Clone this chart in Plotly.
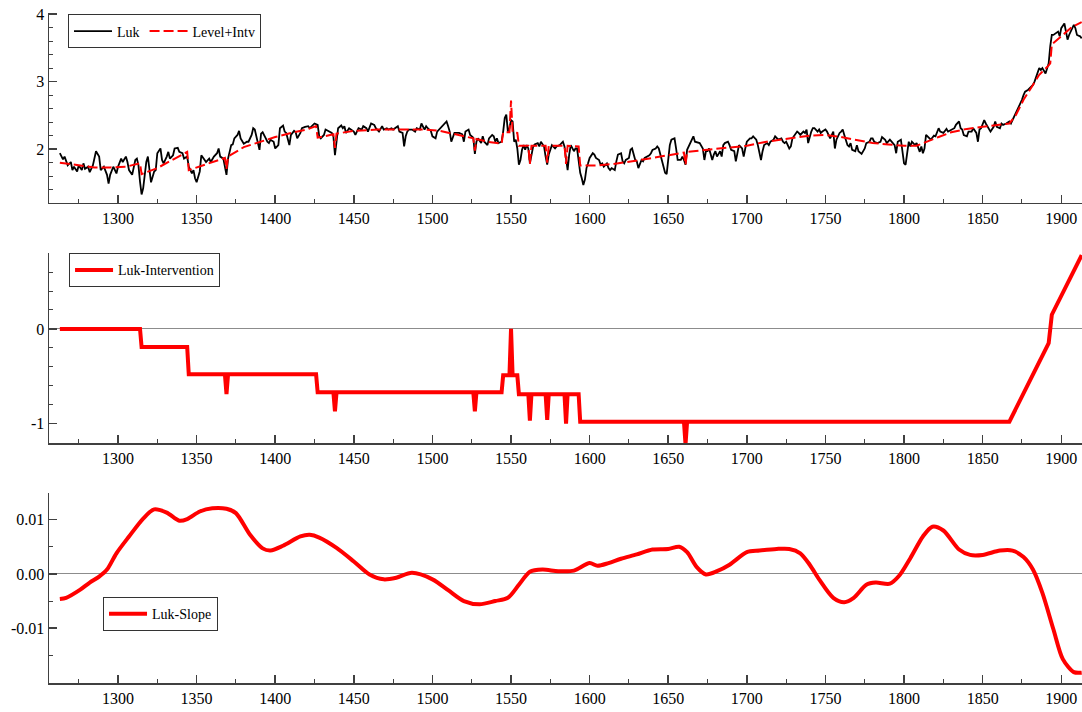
import plotly.graph_objects as go
from plotly.subplots import make_subplots

# ---------------- data ----------------
luk_years = [
 1263,1265,1266,1268,1270,1271,1272,1274,1275,1277,1278,1279,1281,1282,1284,1286,1288,1289,1291,1293,
 1294,1295,1297,1299,1300,1302,1303,1305,1306,1307,1309,1311,1312,1313,1314,1315,1316,1318,1319,1320,
 1321,1323,1324,1325,1327,1328,1329,1331,1332,1333,1335,1336,1338,1339,1341,1342,1344,1345,1347,1348,
 1349,1350,1352,1353,1355,1356,1358,1359,1361,1363,1364,1365,1367,1368,1369,1370,1372,1373,1374,1376,
 1377,1378,1380,1382,1383,1385,1386,1387,1389,1390,1391,1392,1394,1395,1396,1397,1399,1400,1402,1403,
 1405,1406,1407,1409,1410,1412,1413,1414,1416,1417,1419,1421,1422,1424,1425,1427,1428,1429,1431,1432,
 1434,1436,1437,1438,1439,1440,1442,1443,1444,1445,1447,1448,1450,1451,1453,1455,1456,1458,1459,1461,
 1463,1464,1466,1468,1469,1471,1472,1474,1475,1478,1479,1481,1482,1483,1484,1485,1487,1489,1490,1492,
 1493,1495,1496,1497,1499,1500,1502,1503,1505,1506,1508,1509,1510,1511,1512,1514,1515,1517,1519,1520,
 1521,1523,1524,1526,1527,1528,1529,1531,1532,1533,1535,1536,1538,1539,1540,1541,1542,1544,1545,1546,
 1547,1548,1549,1550,1551,1552,1553,1554,1555,1556,1557,1558,1559,1560,1561,1562,1564,1565,1567,1568,
 1569,1571,1572,1573,1574,1575,1576,1578,1579,1581,1583,1584,1585,1586,1587,1588,1590,1591,1592,1593,
 1594,1595,1596,1597,1598,1599,1600,1602,1603,1604,1606,1607,1608,1609,1611,1612,1613,1614,1616,1617,
 1618,1620,1621,1622,1623,1625,1626,1627,1628,1629,1630,1631,1633,1634,1635,1637,1638,1639,1640,1642,
 1643,1644,1645,1647,1648,1649,1650,1651,1652,1654,1655,1656,1658,1659,1660,1661,1662,1663,1664,1666,
 1667,1669,1670,1672,1673,1674,1675,1676,1678,1679,1680,1681,1683,1684,1685,1686,1688,1689,1690,1692,
 1693,1694,1695,1697,1698,1699,1700,1702,1703,1704,1706,1707,1708,1709,1710,1711,1713,1714,1715,1717,
 1718,1719,1720,1722,1723,1724,1725,1727,1728,1729,1731,1732,1733,1734,1736,1737,1738,1739,1741,1742,
 1743,1745,1746,1747,1748,1750,1751,1752,1753,1755,1756,1757,1759,1760,1761,1762,1764,1765,1766,1767,
 1769,1770,1771,1773,1774,1775,1776,1778,1779,1780,1781,1783,1785,1786,1788,1789,1791,1792,1794,1795,
 1796,1798,1799,1800,1801,1802,1803,1804,1805,1807,1808,1810,1811,1812,1813,1814,1816,1817,1819,1820,
 1822,1823,1825,1827,1828,1830,1832,1833,1835,1836,1837,1838,1840,1841,1843,1844,1846,1847,1848,1849,
 1851,1852,1854,1855,1857,1858,1859,1861,1862,1863,1865,1867,1868,1870,1872,1873,1875,1876,1877,1879,
 1880,1882,1883,1885,1886,1887,1888,1890,1891,1892,1893,1894,1895,1896,1898,1899,1900,1902,1903,1904,
 1905,1907,1908,1909,1910,1912,1913]
luk_values = [
 1.94,1.85,1.89,1.76,1.81,1.69,1.74,1.67,1.76,1.69,1.79,1.71,1.74,1.66,1.76,1.97,1.89,1.69,1.74,1.62,
 1.49,1.62,1.74,1.64,1.74,1.86,1.81,1.89,1.81,1.69,1.62,1.84,1.86,1.76,1.52,1.33,1.42,1.81,1.89,1.67,
 1.51,1.67,1.69,1.94,2.01,1.84,1.79,1.89,1.96,1.86,1.91,2.01,2.02,1.96,1.94,1.86,1.89,1.74,1.64,1.69,
 1.57,1.51,1.67,1.91,1.84,1.81,1.86,1.81,1.89,1.94,2.01,1.89,1.86,1.74,1.62,1.86,2.06,2.07,2.16,2.21,
 2.27,2.16,2.08,2.11,2.11,2.21,2.31,2.29,2.11,1.99,2.23,2.25,2.16,2.11,2.09,2.14,2.11,2.01,2.06,2.31,
 2.35,2.26,2.24,2.06,2.21,2.27,2.25,2.16,2.24,2.31,2.33,2.34,2.31,2.36,2.38,2.36,2.19,2.16,2.21,2.29,
 2.26,2.24,2.19,1.91,2.11,2.31,2.35,2.31,2.34,2.24,2.31,2.29,2.26,2.21,2.31,2.29,2.34,2.31,2.26,2.38,
 2.36,2.31,2.26,2.34,2.29,2.31,2.29,2.31,2.29,2.34,2.26,2.24,2.04,2.19,2.26,2.29,2.29,2.26,2.31,2.29,
 2.38,2.29,2.34,2.31,2.27,2.19,2.16,2.26,2.31,2.34,2.38,2.41,2.34,2.26,2.11,2.24,2.24,2.24,2.22,2.11,
 2.26,2.29,2.21,2.17,1.93,2.11,2.16,2.09,2.19,2.11,2.06,2.16,2.21,2.19,2.11,2.16,2.09,2.11,2.26,2.46,
 2.51,2.26,2.31,2.43,2.41,2.11,2.14,2.01,1.77,1.84,1.99,2.06,1.99,2.06,2.01,1.79,2.03,2.07,2.09,2.04,
 2.11,2.04,1.89,1.77,1.92,2.01,2.06,2.01,2.04,2.06,2.11,2.04,1.84,1.69,1.92,2.06,1.97,2.01,2.01,1.82,
 1.65,1.57,1.47,1.55,1.72,1.79,1.87,1.94,1.92,1.87,1.84,1.77,1.79,1.74,1.79,1.72,1.69,1.72,1.69,1.82,
 1.92,1.94,1.82,1.79,1.84,1.87,1.99,2.01,1.92,1.84,1.82,1.72,1.84,1.82,1.87,1.89,1.91,1.94,1.99,2.01,
 2.04,2.01,1.92,1.74,1.65,1.63,1.82,2.06,2.14,2.16,2.01,1.84,1.84,1.89,1.84,1.77,1.99,2.04,2.11,2.19,
 2.11,2.09,2.09,2.01,1.84,1.97,1.97,2.01,1.84,1.92,1.97,1.89,1.97,1.89,2.06,2.09,2.11,2.06,1.99,1.97,
 1.82,1.94,2.06,2.01,1.89,2.01,2.11,2.16,2.16,2.19,2.14,2.06,1.94,1.84,1.97,2.06,2.09,2.06,2.11,2.14,
 2.19,2.16,2.14,2.16,2.11,2.09,2.11,2.01,2.04,2.16,2.24,2.26,2.24,2.21,2.26,2.24,2.29,2.09,2.26,2.31,
 2.31,2.26,2.29,2.24,2.26,2.29,2.26,2.21,2.16,2.26,2.01,2.14,2.24,2.26,2.29,2.21,2.06,2.04,2.09,1.99,
 1.97,2.06,1.97,1.93,1.97,2.01,2.09,2.11,2.16,2.16,2.11,2.09,2.11,2.18,2.14,2.09,2.14,2.11,2.06,1.94,
 2.11,2.14,1.99,1.79,1.77,1.99,2.11,2.04,2.11,2.06,2.09,1.96,2.04,1.94,2.01,2.21,2.16,2.14,2.20,2.19,
 2.31,2.26,2.24,2.30,2.26,2.29,2.31,2.36,2.41,2.31,2.29,2.21,2.19,2.26,2.26,2.31,2.24,2.11,2.29,2.31,
 2.43,2.38,2.29,2.26,2.33,2.41,2.33,2.31,2.38,2.36,2.38,2.41,2.38,2.48,2.56,2.61,2.73,2.80,2.85,2.88,
 2.90,2.95,3.00,3.15,3.20,3.17,3.20,3.12,3.20,3.27,3.52,3.69,3.69,3.71,3.74,3.67,3.79,3.86,3.76,3.62,
 3.69,3.79,3.84,3.79,3.69,3.67,3.64]

level_years = [
 1263,1275,1285,1295,1305,1314,1315,1325,1335,1344,1345,1355,1368,1369,1370,1380,1390,1400,1410,1420,
 1426,1427,1437,1438,1439,1450,1465,1480,1495,1505,1515,1526,1527,1528,1535,1544,1545,1549,1550,1551,
 1554,1555,1561,1562,1563,1572,1573,1574,1584,1585,1586,1593,1594,1605,1615,1625,1635,1645,1655,1660,
 1661,1662,1670,1680,1690,1700,1710,1720,1730,1740,1750,1760,1770,1780,1790,1800,1808,1815,1822,1830,
 1840,1850,1860,1867,1871,1876,1882,1886,1892,1893,1894,1901,1907,1913]
level_values = [
 1.80,1.76,1.73,1.73,1.74,1.79,1.63,1.72,1.84,1.96,1.69,1.77,1.87,1.71,1.89,2.03,2.11,2.18,2.24,2.29,
 2.34,2.17,2.22,2.02,2.23,2.27,2.29,2.29,2.29,2.27,2.22,2.16,1.98,2.15,2.11,2.08,2.25,2.25,2.72,2.25,
 2.24,2.05,2.05,1.78,2.05,2.05,1.80,2.05,2.05,1.78,2.05,2.04,1.76,1.76,1.78,1.81,1.85,1.89,1.93,1.95,
 1.77,1.96,1.98,2.00,2.02,2.05,2.10,2.14,2.17,2.20,2.21,2.18,2.13,2.09,2.07,2.05,2.05,2.12,2.18,2.25,
 2.30,2.33,2.36,2.38,2.50,2.73,2.95,3.10,3.24,3.27,3.55,3.69,3.81,3.88]

intv_years = [
 1263,1314,1315,1344,1345,1368,1369,1370,1426,1427,1437,1438,1439,1526,1527,1528,1544,1545,1549,1550,
 1551,1554,1555,1561,1562,1563,1572,1573,1574,1584,1585,1586,1593,1594,1660,1661,1662,1867,1892,1894,
 1913]
intv_values = [
 0.0,0.0,-0.19,-0.19,-0.48,-0.48,-0.69,-0.48,-0.48,-0.67,-0.67,-0.87,-0.67,-0.67,-0.87,-0.67,-0.67,-0.49,-0.49,0.0,
 -0.49,-0.49,-0.69,-0.69,-0.97,-0.69,-0.69,-0.96,-0.69,-0.69,-1.00,-0.69,-0.69,-0.98,-0.98,-1.22,-0.98,-0.98,-0.15,0.15,
 0.78]

slope_years = [
 1263,1267,1276,1282,1288,1293,1299,1307,1316,1323,1331,1339,1344,1352,1360,1369,1375,1384,1392,1397,
 1405,1416,1422,1428,1439,1450,1460,1469,1477,1487,1500,1510,1520,1530,1540,1548,1555,1562,1570,1580,
 1590,1600,1605,1612,1620,1630,1640,1650,1657,1662,1668,1674,1681,1689,1700,1708,1719,1727,1734,1740,
 1746,1755,1762,1768,1776,1782,1791,1797,1804,1812,1818,1825,1835,1842,1850,1861,1869,1876,1882,1888,
 1895,1901,1908,1913]
slope_values = [
 -0.0046,-0.0044,-0.0029,-0.0016,-0.0005,0.0008,0.0038,0.0069,0.0102,0.0119,0.0113,0.0098,0.0101,0.0115,0.0121,0.0120,0.0112,0.0072,0.0047,0.0043,
 0.0052,0.0069,0.0072,0.0067,0.0048,0.0023,-0.0001,-0.0010,-0.0007,0.0002,-0.0010,-0.0030,-0.0050,-0.0056,-0.0050,-0.0044,-0.0020,0.0004,0.0008,0.0005,
 0.0006,0.0020,0.0015,0.0020,0.0028,0.0036,0.0045,0.0046,0.0050,0.0040,0.0013,-0.0001,0.0005,0.0017,0.0040,0.0043,0.0046,0.0046,0.0038,0.0017,
 -0.0010,-0.0044,-0.0052,-0.0044,-0.0020,-0.0016,-0.0018,-0.0003,0.0029,0.0069,0.0087,0.0080,0.0045,0.0035,0.0035,0.0043,0.0043,0.0031,0.0008,-0.0035,
 -0.0102,-0.0157,-0.0181,-0.0182]

x_tickvals = [1300, 1350, 1400, 1450, 1500, 1550, 1600, 1650, 1700, 1750, 1800, 1850, 1900]
x_ticktext = ["1300", "1350", "1400", "1450", "1500", "1550", "1600", "1650", "1700", "1750", "1800", "1850", "1900"]
y1_tickvals = [2, 3, 4]
y1_ticktext = ["2", "3", "4"]
y2_tickvals = [-1, 0]
y2_ticktext = ["-1", "0"]
y3_tickvals = [-0.01, 0.0, 0.01]
y3_ticktext = ["-0.01", "0.00", "0.01"]

# ---------------- figure ----------------
FONT = "Liberation Serif"
AX = "#404040"

fig = make_subplots(rows=3, cols=1)

fig.add_trace(go.Scatter(x=luk_years, y=luk_values, mode="lines", name="Luk",
                         line=dict(color="black", width=1.8), legend="legend"), row=1, col=1)
fig.add_trace(go.Scatter(x=level_years, y=level_values, mode="lines", name="Level+Intv",
                         line=dict(color="#ff0000", width=2, dash="10px,4px"), legend="legend"), row=1, col=1)
fig.add_trace(go.Scatter(x=intv_years, y=intv_values, mode="lines", name="Luk-Intervention",
                         line=dict(color="#ff0000", width=4), legend="legend2"), row=2, col=1)
fig.add_trace(go.Scatter(x=slope_years, y=slope_values, mode="lines", name="Luk-Slope",
                         line=dict(color="#ff0000", width=4, shape="spline", smoothing=0.8),
                         legend="legend3"), row=3, col=1)

xcommon = dict(range=[1256.1, 1913.2], showline=True, linecolor=AX, linewidth=1.5,
               ticks="inside", ticklen=8, tickwidth=1.5, tickcolor=AX,
               tickmode="array", tickvals=x_tickvals, ticktext=x_ticktext,
               minor=dict(ticks="inside", ticklen=4, tickwidth=1, tickcolor=AX,
                          tickmode="linear", tick0=1275, dtick=50),
               showgrid=False, zeroline=False, automargin=False, ticklabeloverflow="allow",
               tickfont=dict(family=FONT, size=16, color="black"))
ycommon = dict(showline=True, linecolor=AX, linewidth=1.5,
               ticks="inside", ticklen=8, tickwidth=1.5, tickcolor=AX,
               tickmode="array", showgrid=False, automargin=False, ticklabeloverflow="allow",
               tickfont=dict(family=FONT, size=16, color="black"))

domains = [[0.7166, 1.0], [0.3580, 0.6415], [0.0, 0.2835]]
for i in range(3):
    fig.update_xaxes(**xcommon, row=i + 1, col=1)
    fig.layout[f"yaxis{'' if i == 0 else i + 1}"].domain = domains[i]

fig.update_yaxes(**ycommon, range=[1.205, 4.015], tickvals=y1_tickvals, ticktext=y1_ticktext,
                 zeroline=False,
                 minor=dict(ticks="inside", ticklen=4, tickwidth=1, tickcolor=AX,
                            tickmode="linear", tick0=0, dtick=0.2), row=1, col=1)
fig.update_yaxes(**ycommon, range=[-1.207, 0.8], tickvals=y2_tickvals, ticktext=y2_ticktext,
                 zeroline=True, zerolinecolor="#8c8c8c", zerolinewidth=1,
                 minor=dict(ticks="inside", ticklen=4, tickwidth=1, tickcolor=AX,
                            tickmode="linear", tick0=0, dtick=0.2), row=2, col=1)
fig.update_yaxes(**ycommon, range=[-0.0201, 0.0149], tickvals=y3_tickvals, ticktext=y3_ticktext,
                 zeroline=True, zerolinecolor="#8c8c8c", zerolinewidth=1,
                 minor=dict(ticks="inside", ticklen=4, tickwidth=1, tickcolor=AX,
                            tickmode="linear", tick0=0, dtick=0.005), row=3, col=1)

leg = dict(bgcolor="white", bordercolor="#333333", borderwidth=1,
           font=dict(family=FONT, size=14, color="black"),
           xanchor="left", yanchor="top", orientation="h", itemwidth=38)
fig.update_layout(
    width=1082, height=712,
    margin=dict(l=49, r=0, t=13, b=29, autoexpand=False),
    paper_bgcolor="white", plot_bgcolor="white",
    hovermode=False,
    legend=dict(**leg, x=0.0184, y=0.9978),
    legend2=dict(**leg, x=0.0194, y=0.6412),
    legend3=dict(**leg, x=0.0523, y=0.128),
)

fig.write_html(
    "out.html",
    config={"displayModeBar": False, "staticPlot": True},
    post_script="document.body.style.margin='0px';document.documentElement.style.overflow='hidden';",
)
